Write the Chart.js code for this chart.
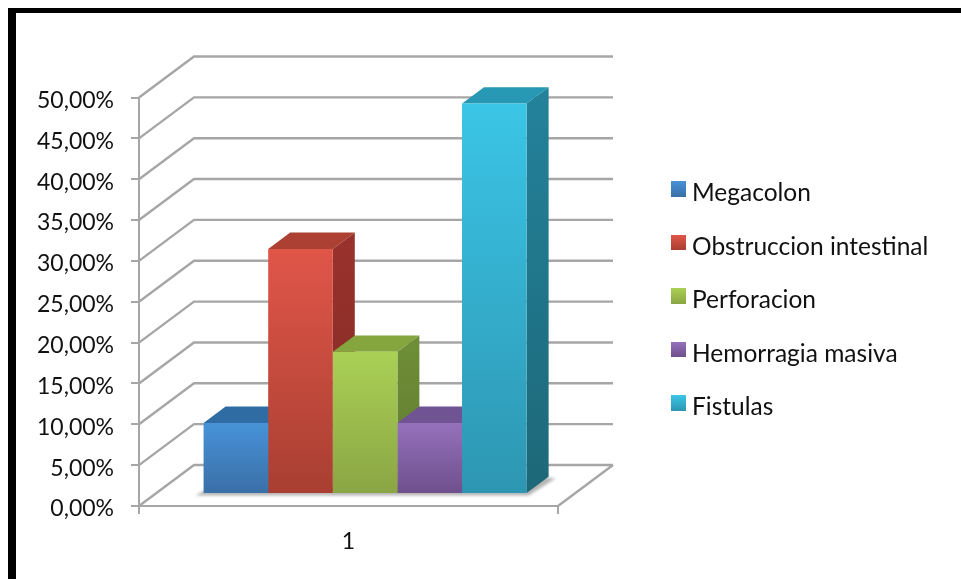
<!DOCTYPE html>
<html lang="es">
<head>
  <meta charset="UTF-8">
  <title>Complicaciones</title>
  <script src="https://cdn.jsdelivr.net/npm/chart.js"></script>
  <style>
    html, body { margin: 0; height: 100%; background: #fff; overflow: hidden; }
    #frame {
      position: absolute; left: 7.5px; top: 8px; right: 0; bottom: 0;
      border-left: 8px solid #000; border-top: 5px solid #000;
    }
    #wrap { position: absolute; left: 0; top: 0; width: 961px; height: 579px; }
    #legend {
      position: absolute; left: 671px; top: 165px; margin: 0; padding: 0; list-style: none;
      font: 24.5px Lato, sans-serif; color: #111;
    }
    #legend li { display: flex; align-items: center; height: 53.5px; white-space: nowrap; }
    #legend i { display: block; width: 15px; height: 15.5px; margin-right: 6px; position: relative; top: -3px; }
  </style>
</head>
<body>
<div id="frame"></div>
<div id="wrap">
  <canvas id="complicaciones" width="961" height="579"></canvas>
  <ul id="legend"></ul>
</div>

<script>
  const categories = ['1'];
  const seriesNames = ['Megacolon', 'Obstruccion intestinal', 'Perforacion', 'Hemorragia masiva', 'Fistulas'];
  const seriesValues = [8.7, 30.0, 17.4, 8.7, 47.8];

  // front light/dark, top face, side face light/dark
  const frontTop = ['#4792d8', '#e05649', '#aad055', '#9571bb', '#3bc5e6'];
  const frontBottom = ['#3a6fa6', '#a83f31', '#8aa544', '#6e4f8c', '#2d96b2'];
  const topFace = ['#2f6ca4', '#ac4032', '#85a53f', '#6f5392', '#2799b4'];
  const sideTop = ['#2f6ca4', '#9a322c', '#708f38', '#5f4680', '#23829b'];
  const sideBottom = ['#275a88', '#7f2a25', '#5f7a30', '#4f3a6b', '#1d6878'];

  const gridColor = '#a6a6a6';
  const wall = { dx: 55, dy: -41 };   // floor depth
  const inset = { dx: 16.6, dy: -12 }; // bars stand mid-floor
  const bar = { dx: 22, dy: -16.3 };     // bar depth

  function frontGradient(ctx) {
    const chart = ctx.chart;
    const y = chart.scales.y;
    const top = y ? y.getPixelForValue(ctx.raw) : NaN;
    const base = y ? y.getPixelForValue(0) : NaN;
    if (!isFinite(top) || !isFinite(base)) return frontTop[ctx.datasetIndex];
    const g = chart.ctx.createLinearGradient(0, top, 0, base);
    g.addColorStop(0, frontTop[ctx.datasetIndex]);
    g.addColorStop(1, frontBottom[ctx.datasetIndex]);
    return g;
  }

  function poly(c, pts) {
    c.beginPath();
    pts.forEach((p, i) => i ? c.lineTo(p[0], p[1]) : c.moveTo(p[0], p[1]));
    c.closePath();
  }

  // back wall, floor and the depth faces of the bars; front faces are the chart's own bars
  const depthPlugin = {
    id: 'depth',
    beforeDatasetsDraw(chart) {
      const c = chart.ctx;
      const { x, y } = chart.scales;
      const left = chart.chartArea.left, right = chart.chartArea.right;

      c.save();
      c.strokeStyle = gridColor;
      c.lineWidth = 2.4;
      y.ticks.forEach(t => {
        const py = y.getPixelForValue(t.value);
        c.beginPath();
        c.moveTo(left, py);
        c.lineTo(left + wall.dx, py + wall.dy);
        c.lineTo(right + wall.dx, py + wall.dy);
        c.stroke();
      });
      const y0 = y.getPixelForValue(0);
      c.beginPath();
      c.moveTo(right + wall.dx, y0 + wall.dy);
      c.lineTo(right, y0);
      c.stroke();
      c.restore();

      c.save();
      c.translate(inset.dx, inset.dy);

      // soft shadow on the floor
      const metas = chart.getSortedVisibleDatasetMetas().slice().sort((a, b) => a.index - b.index);
      const first = metas[0].data[0], last = metas[metas.length - 1].data[0];
      c.save();
      c.filter = 'blur(1.5px)';
      c.fillStyle = '#b4b4b4';
      poly(c, [
        [first.x - first.width / 2 - 8, y0 + 1.5],
        [last.x + last.width / 2 + 2, y0 + 1.5],
        [last.x + last.width / 2 + bar.dx + 7, y0 + bar.dy + 0.5],
        [last.x + last.width / 2 + bar.dx, y0 + bar.dy],
        [first.x - first.width / 2, y0 - 3]
      ]);
      c.fill();
      c.restore();

      metas.forEach(meta => {
        const el = meta.data[0], i = meta.index;
        const l = el.x - el.width / 2, r = el.x + el.width / 2;
        c.fillStyle = topFace[i];
        poly(c, [[l, el.y], [r, el.y], [r + bar.dx, el.y + bar.dy], [l + bar.dx, el.y + bar.dy]]);
        c.fill();
        const g = c.createLinearGradient(0, el.y + bar.dy, 0, el.base);
        g.addColorStop(0, sideTop[i]);
        g.addColorStop(1, sideBottom[i]);
        c.fillStyle = g;
        poly(c, [[r, el.y], [r + bar.dx, el.y + bar.dy], [r + bar.dx, el.base + bar.dy], [r, el.base]]);
        c.fill();
      });
      c.restore();

      // keep the bars on the same mid-floor plane
      c.save();
      c.translate(inset.dx, inset.dy);
    },
    afterDatasetsDraw(chart) {
      chart.ctx.restore();
    }
  };

  new Chart(document.getElementById('complicaciones'), {
    type: 'bar',
    data: {
      labels: categories,
      datasets: seriesNames.map((name, i) => ({
        label: name,
        data: [seriesValues[i]],
        backgroundColor: frontGradient,
        borderWidth: 0,
        clip: false
      }))
    },
    options: {
      responsive: false,
      animation: false,
      events: [],
      categoryPercentage: 0.771,
      barPercentage: 1,
      layout: { padding: { top: 97.5, right: 403, left: 0, bottom: 0 } },
      plugins: { legend: { display: false }, tooltip: { enabled: false } },
      scales: {
        x: {
          afterFit(axis) { axis.height = 73; },
          border: { color: gridColor, width: 2 },
          grid: { offset: true, drawOnChartArea: false, color: gridColor, lineWidth: 2, tickLength: 8 },
          ticks: { color: '#111', padding: 14, font: { family: 'Lato', size: 23 } }
        },
        y: {
          min: 0,
          max: 50,
          afterFit(axis) { axis.width = 139; },
          border: { color: gridColor, width: 2 },
          grid: { drawOnChartArea: false, color: gridColor, lineWidth: 2, tickLength: 8 },
          ticks: {
            stepSize: 5,
            color: '#111',
            padding: 17,
            labelOffset: 3,
            font: { family: 'Lato', size: 23 },
            callback: v => v.toFixed(2).replace('.', ',') + '%'
          }
        }
      }
    },
    plugins: [depthPlugin]
  });

  document.getElementById('legend').innerHTML = seriesNames.map((name, i) =>
    `<li><i style="background:linear-gradient(${frontTop[i]},${frontBottom[i]})"></i>${name}</li>`
  ).join('');
</script>
</body>
</html>
